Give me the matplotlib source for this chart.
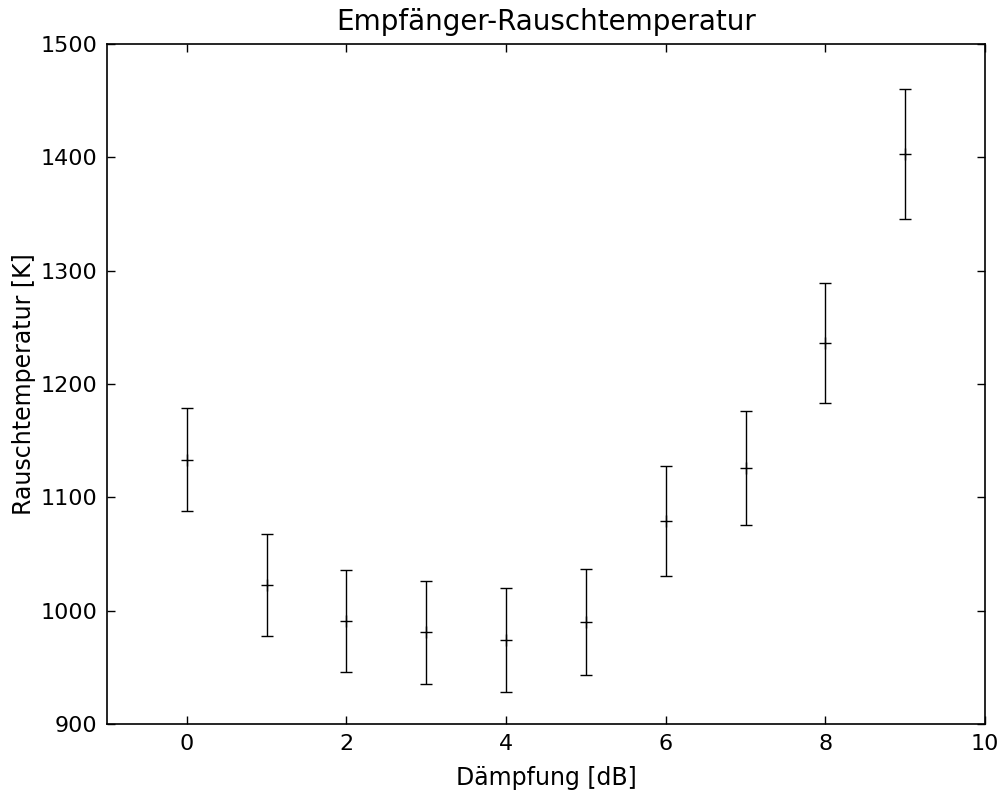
import numpy as np
import matplotlib
matplotlib.use('Agg')
import matplotlib.pyplot as plt

# Dämpfung [dB] vs. Empfänger-Rauschtemperatur [K]
daempfung = [0, 1, 2, 3, 4, 5, 6, 7, 8, 9]
t_rausch = [1133, 1023, 991, 981, 974, 990, 1079, 1126, 1236, 1403]
t_fehler = [45.5, 45, 45, 45.3, 45.6, 46.5, 48.4, 50, 52.8, 57]

fig = plt.figure(figsize=(10.05, 7.96), dpi=100)
ax = fig.add_axes([0.1065, 0.0905, 0.8736, 0.8542])

ax.errorbar(daempfung, t_rausch, yerr=t_fehler, fmt='k+', ecolor='k',
            elinewidth=1, capsize=4.5, markersize=9, markeredgewidth=1)

ax.set_xlim(-1, 10)
ax.set_ylim(900, 1500)
ax.set_xticks([0, 2, 4, 6, 8, 10])
ax.set_yticks(np.arange(900, 1501, 100))
ax.tick_params(direction='in', top=True, right=True, length=6, width=1,
               labelsize=16, pad=7)
for s in ax.spines.values():
    s.set_linewidth(1.2)

ax.set_title('Empfänger-Rauschtemperatur', fontsize=20, pad=10)
ax.set_xlabel('Dämpfung [dB]', fontsize=17, labelpad=9)
ax.set_ylabel('Rauschtemperatur [K]', fontsize=17, labelpad=3)

fig.savefig('out.png', dpi=100)
